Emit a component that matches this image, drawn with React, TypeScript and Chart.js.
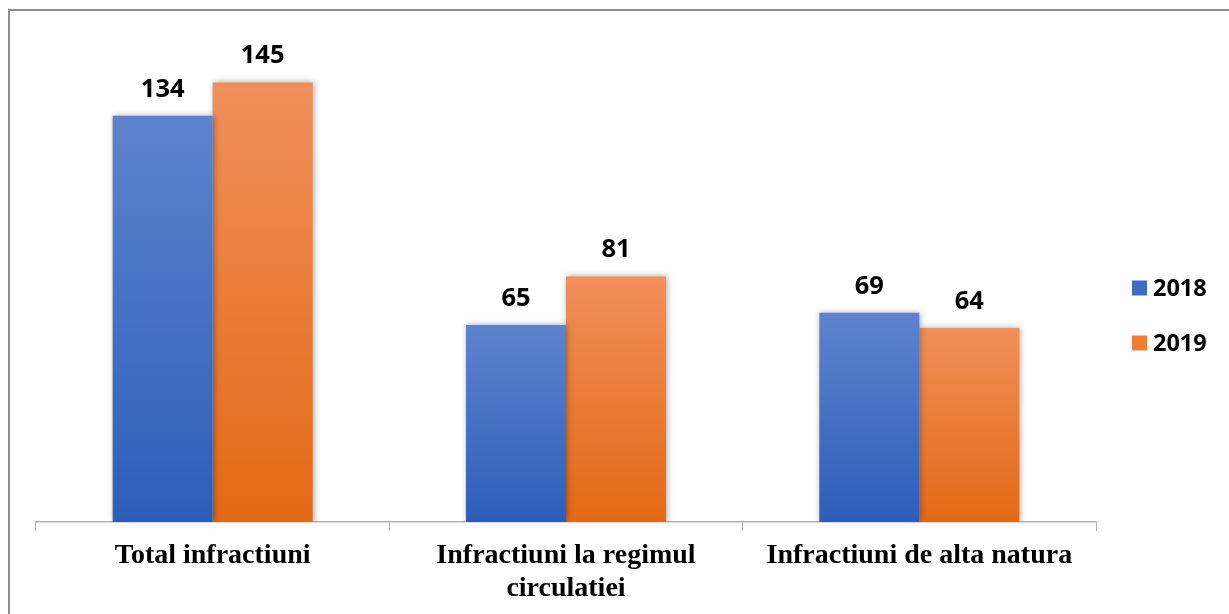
import { useEffect, useRef } from "react";
import { Chart, registerables } from "chart.js";

Chart.register(...registerables);

const categories: (string | string[])[] = [
  "Total infractiuni",
  ["Infractiuni la regimul", "circulatiei"],
  "Infractiuni de alta natura",
];
const seriesNames = ["2018", "2019"];
const values2018 = [134, 65, 69];
const values2019 = [145, 81, 64];
const yMax = 160;

const blueTop = "#5e83cd";
const blueBottom = "#2c5eb9";
const orangeTop = "#f18f5a";
const orangeBottom = "#e36915";
const legendColors = ["#3f6cc3", "#ef7b34"];

function barGradient(top: string, bottom: string) {
  return (ctx: any) => {
    const chart = ctx.chart;
    const scales = chart.scales;
    if (!chart.chartArea || !scales || !scales.y || ctx.type !== "data") return bottom;
    const v = ctx.raw as number;
    const yTop = scales.y.getPixelForValue(v);
    const yBase = scales.y.getPixelForValue(0);
    if (!isFinite(yTop) || !isFinite(yBase) || yTop === yBase) return bottom;
    const g = chart.ctx.createLinearGradient(0, yTop, 0, yBase);
    g.addColorStop(0, top);
    g.addColorStop(1, bottom);
    return g;
  };
}

const decorPlugin = {
  id: "decor",
  beforeDatasetsDraw(chart: any) {
    const ctx = chart.ctx;
    ctx.save();
    ctx.shadowColor = "rgba(0,0,0,0.35)";
    ctx.shadowBlur = 6;
    ctx.shadowOffsetX = 1;
    ctx.shadowOffsetY = 0;
  },
  afterDatasetsDraw(chart: any) {
    const ctx = chart.ctx;
    ctx.restore();
    ctx.save();
    ctx.fillStyle = "#000";
    ctx.font = 'bold 25.5px "Open Sans", "DejaVu Sans", sans-serif';
    ctx.textAlign = "center";
    ctx.textBaseline = "alphabetic";
    chart.data.datasets.forEach((ds: any, di: number) => {
      const meta = chart.getDatasetMeta(di);
      meta.data.forEach((bar: any, i: number) => {
        ctx.fillText(String(ds.data[i]), bar.x, bar.y - 19);
      });
    });
    // legend
    ctx.font = 'bold 23.5px "Open Sans", "DejaVu Sans", sans-serif';
    ctx.textAlign = "left";
    ctx.textBaseline = "middle";
    const legendY = [288, 343];
    seriesNames.forEach((name, i) => {
      ctx.fillStyle = legendColors[i];
      ctx.fillRect(1132, legendY[i] - 7.5, 15, 15);
      ctx.fillStyle = "#000";
      ctx.fillText(name, 1153, legendY[i] + 1);
    });
    ctx.restore();
  },
};

export default function App() {
  const ref = useRef<HTMLCanvasElement | null>(null);
  useEffect(() => {
    if (!ref.current) return;
    const chart = new Chart(ref.current, {
      type: "bar",
      data: {
        labels: categories,
        datasets: [
          {
            label: seriesNames[0],
            data: values2018,
            backgroundColor: barGradient(blueTop, blueBottom),
            categoryPercentage: 0.566,
            barPercentage: 1.0,
            borderWidth: 0,
          },
          {
            label: seriesNames[1],
            data: values2019,
            backgroundColor: barGradient(orangeTop, orangeBottom),
            categoryPercentage: 0.566,
            barPercentage: 1.0,
            borderWidth: 0,
          },
        ],
      },
      options: {
        responsive: false,
        animation: false,
        events: [],
        layout: { padding: { left: 36, right: 133, top: 37, bottom: 0 } },
        plugins: {
          legend: { display: false },
          tooltip: { enabled: false },
          title: { display: false },
        },
        scales: {
          x: {
            grid: {
              display: true,
              drawOnChartArea: false,
              drawTicks: true,
              tickLength: 9,
              color: "#b3b3b3",
              lineWidth: 1,
              offset: true,
            },
            border: { display: true, color: "#b3b3b3", width: 1.5 },
            ticks: {
              color: "#000",
              font: {
                family: '"Liberation Serif", "Times New Roman", serif',
                size: 28,
                weight: "bold",
                lineHeight: 1.15,
              },
              padding: 9,
              maxRotation: 0,
              minRotation: 0,
              autoSkip: false,
            },
            afterFit: (s: any) => {
              s.height = 92;
            },
          },
          y: {
            display: false,
            min: 0,
            max: yMax,
          },
        },
      },
      plugins: [decorPlugin],
    });
    return () => chart.destroy();
  }, []);

  return (
    <div
      style={{
        position: "absolute",
        left: 0,
        top: 0,
        width: 1229,
        height: 614,
        overflow: "hidden",
        background: "#fff",
      }}
    >
      <canvas ref={ref} width={1229} height={614} style={{ display: "block" }} />
      <div
        style={{
          position: "absolute",
          left: 8,
          top: 9,
          width: 1300,
          height: 700,
          borderTop: "2px solid #8f8f8f",
          borderLeft: "2px solid #8f8f8f",
          pointerEvents: "none",
        }}
      />
    </div>
  );
}
